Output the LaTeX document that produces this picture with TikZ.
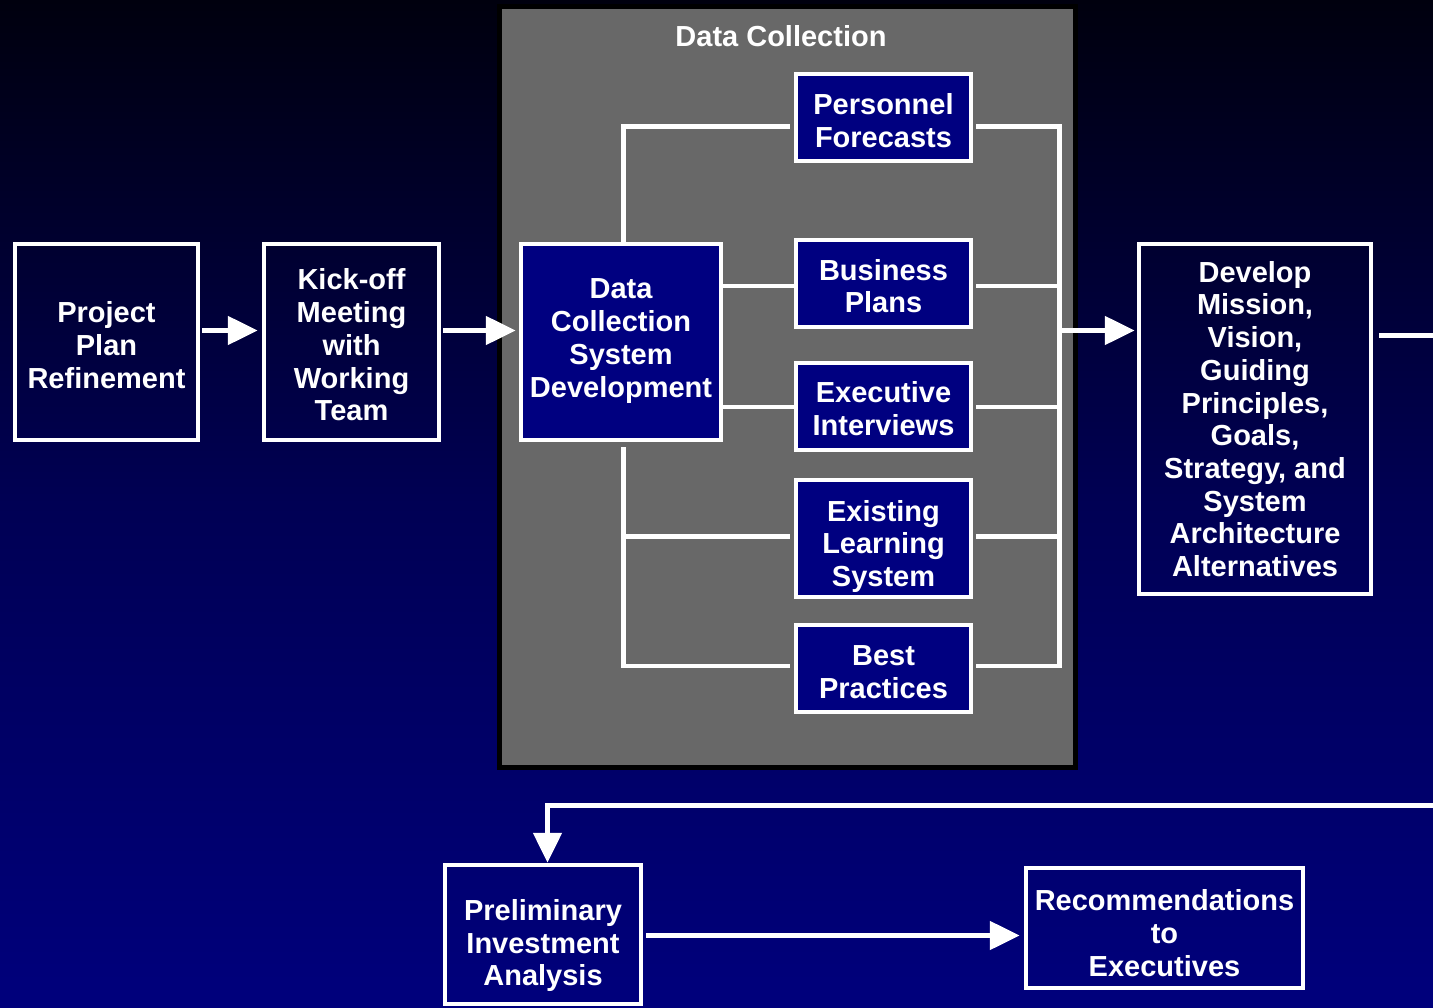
\documentclass[tikz,border=0pt]{standalone}
\usepackage{fontspec}
\setmainfont{Liberation Sans}
\usetikzlibrary{arrows.meta}
\definecolor{navyfill}{RGB}{0,0,128}
\definecolor{panelgray}{RGB}{104,104,104}
\definecolor{bgtop}{RGB}{0,0,14}
\definecolor{bgmid}{RGB}{0,0,84}
\definecolor{bgbot}{RGB}{0,0,124}

\begin{document}
\begin{tikzpicture}[x=1pt,y=-1pt,
  lbl/.style={font=\fontsize{29}{32.7}\selectfont\bfseries, text=white, align=center, inner sep=0pt},
  outerbox/.style={draw=white, line width=4.5pt, inner sep=0pt},
  innerbox/.style={outerbox, fill=navyfill},
  % box caption, lowered by #1 from the box centre
  caption/.style 2 args={label={[lbl, yshift=-#1]center:{#2}}},
  link/.style={draw=white, line width=4.5pt},
  flow/.style={draw=white, line width=5pt, -{Triangle[length=30pt,width=28pt]}},
]
\useasboundingbox (0,0) rectangle (1433,1008);
\clip (0,0) rectangle (1433,1008);

% background
\fill[top color=bgtop, bottom color=bgbot, middle color=bgmid] (0,0) rectangle (1433,1008);

% data collection panel
\node[draw=black, line width=5pt, fill=panelgray, inner sep=0pt,
      minimum width=576pt, minimum height=761pt] (panel) at (787.5,387) {};
\node[lbl] (paneltitle) at (781,36) {Data Collection};

% reference levels
\coordinate (lvlA) at (0,330.5);
\coordinate (lvlB) at (0,935.5);
\coordinate (lvlC) at (0,335.5);
\coordinate (trunk) at (623.5,0);
\coordinate (bus) at (1059.5,0);
\coordinate (r1) at (0,126.5);
\coordinate (r2) at (0,286);
\coordinate (r3) at (0,407);
\coordinate (r4) at (0,536.3);
\coordinate (r5) at (0,665.8);
\coordinate (beyond) at (1450,0);
\coordinate (fbrow) at (547.5,805.5);

% main flow boxes
\node[outerbox, minimum width=183pt, minimum height=196pt,
      caption={3pt}{Project\\Plan\\Refinement}] (proj) at (106.5,342) {};
\node[outerbox, minimum width=175pt, minimum height=196pt,
      caption={3pt}{Kick-off\\Meeting\\with\\Working\\Team}] (kick) at (351.5,342) {};
\node[innerbox, minimum width=200pt, minimum height=196pt,
      caption={-1pt}{Data\\Collection\\System\\Development}] (dcsd) at (621,342) {};

% data sources
\node[innerbox, minimum width=175pt, minimum height=87pt,
      caption={3pt}{Personnel\\Forecasts}] (pf) at (883.5,117.5) {};
\node[innerbox, minimum width=175pt, minimum height=87pt,
      caption={2.5pt}{Business\\Plans}] (bp) at (883.5,283.5) {};
\node[innerbox, minimum width=175pt, minimum height=87pt,
      caption={2pt}{Executive\\Interviews}] (ei) at (883.5,406.5) {};
\node[innerbox, minimum width=175pt, minimum height=117pt,
      caption={8pt}{Existing\\Learning\\System}] (els) at (883.5,538.5) {};
\node[innerbox, minimum width=175pt, minimum height=87pt,
      caption={3.5pt}{Best\\Practices}] (best) at (883.5,668.5) {};

\node[outerbox, minimum width=232pt, minimum height=350pt,
      caption={0pt}{Develop\\Mission,\\Vision,\\Guiding\\Principles,\\Goals,\\Strategy, and\\System\\Architecture\\Alternatives}] (dev) at (1255,419) {};
\node[outerbox, minimum width=196pt, minimum height=139pt,
      caption={11pt}{Preliminary\\Investment\\Analysis}] (prelim) at (543,934.5) {};
\node[outerbox, minimum width=277pt, minimum height=120pt,
      caption={5pt}{Recommendations\\to\\Executives}] (rec) at (1164.5,928) {};

% arrows between stages
\draw[flow, shorten <=2pt, shorten >=4pt] (proj.east |- lvlA) -- (kick.west |- lvlA);
\draw[flow, shorten <=2pt, shorten >=3pt] (kick.east |- lvlA) -- (dcsd.west |- lvlA);

% fan-out from the development box
\draw[link, shorten >=4pt] (dcsd.north -| trunk) -- (trunk |- r1) -- (pf.west |- r1);
\draw[link] (dcsd.east |- r2) -- (bp.west |- r2);
\draw[link] (dcsd.east |- r3) -- (ei.west |- r3);
\draw[link, shorten >=4pt] (trunk |- r4) -- (els.west |- r4);
\draw[link, shorten <=5pt, shorten >=4pt] (dcsd.south -| trunk) -- (trunk |- r5) -- (best.west |- r5);

% collecting bus
\draw[link, shorten <=3pt, shorten >=3pt] (pf.east |- r1) -- (bus |- r1) -- (bus |- r5) -- (best.east |- r5);
\draw[link, shorten <=3pt] (bp.east |- r2) -- (bus |- r2);
\draw[link, shorten <=3pt] (ei.east |- r3) -- (bus |- r3);
\draw[link, shorten <=3pt] (els.east |- r4) -- (bus |- r4);
\draw[flow, shorten >=2pt] (bus |- lvlA) -- (dev.west |- lvlA);

% return path to the investment analysis
\draw[flow, shorten <=6pt] (dev.east |- lvlC) -- (beyond |- lvlC) -- (beyond |- fbrow)
  -- (fbrow) -- (fbrow |- prelim.north);
\draw[flow, shorten <=3pt, shorten >=4pt] (prelim.east |- lvlB) -- (rec.west |- lvlB);
\end{tikzpicture}
\end{document}
